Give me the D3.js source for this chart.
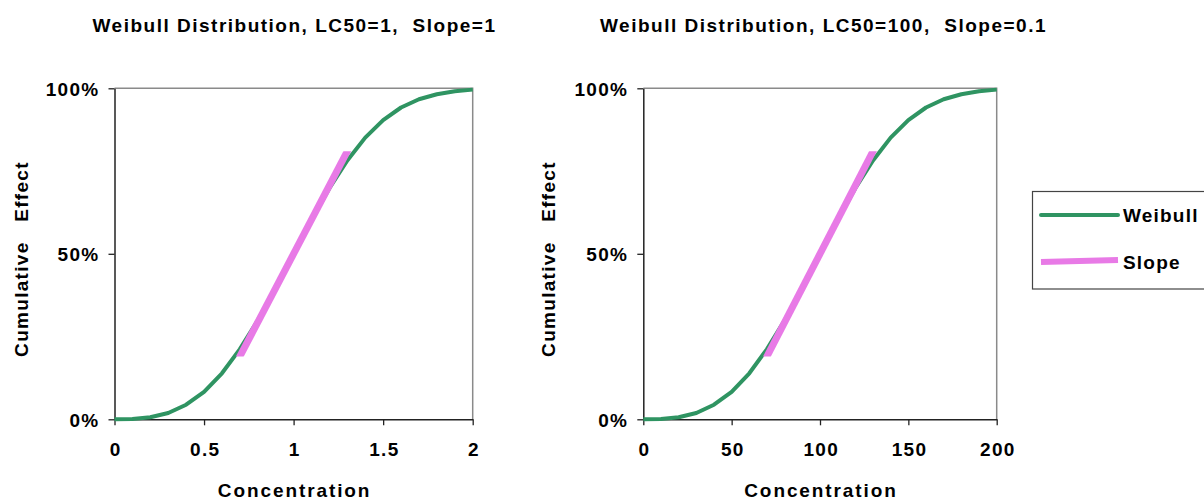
<!DOCTYPE html>
<html><head><meta charset="utf-8">
<script src="https://cdn.jsdelivr.net/npm/d3@7/dist/d3.min.js"></script>
<style>
html,body{margin:0;padding:0;background:#fff;}
svg text{font-family:"Liberation Sans",Arial,sans-serif;font-weight:bold;fill:#000;}
</style></head>
<body>
<svg id="chart" width="1204" height="501"></svg>
<script>
// ---- data ----
const titles = ["Weibull Distribution, LC50=1,  Slope=1", "Weibull Distribution, LC50=100,  Slope=0.1"];
const concA = [0,0.1,0.2,0.3,0.4,0.5,0.6,0.7,0.8,0.9,1.0,1.1,1.2,1.3,1.4,1.5,1.6,1.7,1.8,1.9,2.0];
const effectA = [0,0.001,0.006,0.019,0.044,0.083,0.139,0.212,0.299,0.397,0.500,0.603,0.698,0.782,0.851,0.904,0.942,0.967,0.982,0.991,0.996];
const concB = [0,10,20,30,40,50,60,70,80,90,100,110,120,130,140,150,160,170,180,190,200];
const effectB = [0,0.001,0.006,0.019,0.044,0.083,0.139,0.212,0.299,0.397,0.500,0.603,0.698,0.782,0.851,0.904,0.942,0.967,0.982,0.991,0.996];
const slopeConcA = [0.7, 1.3];
const slopeConcB = [70, 130];
const slopeEffect = [0.19, 0.81];
const xTicksA = [0,0.5,1,1.5,2];
const xTicksB = [0,50,100,150,200];
const yTicks = [0,0.5,1];
const yTickLabels = ["0%","50%","100%"];
const seriesNames = ["Weibull","Slope"];
const xTitle = "Concentration";
const yTitle = "Cumulative   Effect";

const GREEN = "#2f9462", PINK = "#e87ae6";
const FS = "19px";
const svg = d3.select("#chart");

const panels = [
  {title:titles[0], conc:concA, eff:effectA, sx:slopeConcA, xt:xTicksA, x0:114.5, x1:472.7, cx:294.5, ylx:28},
  {title:titles[1], conc:concB, eff:effectB, sx:slopeConcB, xt:xTicksB, x0:643.3, x1:996.7, cx:823.5, ylx:555}
];
const yTop = 88.3, yBot = 419.3;

panels.forEach((p,i) => {
  const x = d3.scaleLinear().domain(d3.extent(p.xt)).range([p.x0, p.x1]);
  const y = d3.scaleLinear().domain([0,1]).range([yBot, yTop]);
  const g = svg.append("g");

  // title
  g.append("text").attr("x", p.cx).attr("y", 32).attr("text-anchor","middle")
    .style("font-size",FS).style("letter-spacing","1.5px").style("white-space","pre").text(p.title);

  // top & right borders (gray)
  g.append("path").attr("d", `M${x.range()[0]},${y(1)}H${x.range()[1]}V${y(0)}`)
    .attr("fill","none").attr("stroke","#8a8a8a").attr("stroke-width",1.5);

  // axes
  const xa = g.append("g").attr("transform",`translate(0,${yBot})`)
    .call(d3.axisBottom(x).tickValues(p.xt).tickSize(6).tickSizeOuter(0).tickPadding(17).tickFormat(d3.format("")));
  const ya = g.append("g").attr("transform",`translate(${p.x0},0)`)
    .call(d3.axisLeft(y).tickValues(yTicks).tickSize(6).tickSizeOuter(0).tickPadding(9).tickFormat((d,k)=>yTickLabels[k]));
  [xa,ya].forEach(a => {
    a.select(".domain").attr("stroke","#222").attr("stroke-width",1.5);
    a.selectAll(".tick line").attr("stroke","#222").attr("stroke-width",1.3);
    a.selectAll("text").style("font-size",FS).style("letter-spacing","1.3px")
      .style("font-family",'"Liberation Sans",Arial,sans-serif').style("font-weight","bold").attr("fill","#000");
  });
  xa.selectAll("text").attr("dy","0.71em").attr("dx","0.7px");
  ya.selectAll("text").attr("dy","0.36em");

  // axis titles
  g.append("text").attr("x", (p.x0+p.x1)/2 + 1).attr("y", 497).attr("text-anchor","middle")
    .style("font-size",FS).style("letter-spacing","1.9px").text(xTitle);
  g.append("text").attr("transform",`translate(${p.ylx},259) rotate(-90)`).attr("text-anchor","middle")
    .style("font-size",FS).style("letter-spacing","1.3px").style("white-space","pre").text(yTitle);

  // weibull curve
  const line = d3.line().x((d,k)=>x(p.conc[k])).y(d=>y(d));
  g.append("path").datum(p.eff).attr("d", line).attr("fill","none")
    .attr("stroke",GREEN).attr("stroke-width",4).attr("stroke-linejoin","round");

  // slope line with horizontal cut ends
  const clipId = "clip"+i;
  svg.append("clipPath").attr("id",clipId).append("rect")
    .attr("x", p.x0).attr("width", p.x1-p.x0)
    .attr("y", y(slopeEffect[1])).attr("height", y(slopeEffect[0]) - y(slopeEffect[1]));
  const ext = 0.1;
  const dxs = p.sx[1]-p.sx[0], dys = slopeEffect[1]-slopeEffect[0];
  g.append("line").attr("clip-path",`url(#${clipId})`)
    .attr("x1", x(p.sx[0]-dxs*ext)).attr("y1", y(slopeEffect[0]-dys*ext))
    .attr("x2", x(p.sx[1]+dxs*ext)).attr("y2", y(slopeEffect[1]+dys*ext))
    .attr("stroke",PINK).attr("stroke-width",7);
});

// legend
const lg = svg.append("g");
lg.append("rect").attr("x",1032.5).attr("y",191.5).attr("width",200).attr("height",97.5)
  .attr("fill","#fff").attr("stroke","#444").attr("stroke-width",1.2);
lg.append("line").attr("x1",1041).attr("x2",1118).attr("y1",215).attr("y2",215)
  .attr("stroke",GREEN).attr("stroke-width",4).attr("stroke-linecap","round");
lg.append("line").attr("x1",1041).attr("x2",1118).attr("y1",262).attr("y2",260)
  .attr("stroke",PINK).attr("stroke-width",6);
lg.append("text").attr("x",1123).attr("y",222).style("font-size",FS).style("letter-spacing","1.2px").text(seriesNames[0]);
lg.append("text").attr("x",1123).attr("y",268.5).style("font-size",FS).style("letter-spacing","1.2px").text(seriesNames[1]);
</script>
</body></html>
